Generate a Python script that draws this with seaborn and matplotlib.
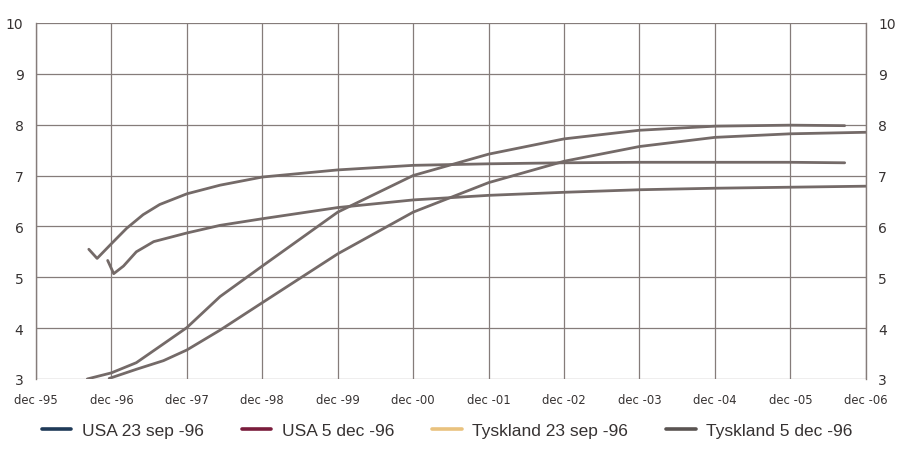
import matplotlib
matplotlib.use("Agg")
import matplotlib.pyplot as plt
from matplotlib.lines import Line2D
import seaborn as sns
import pandas as pd

# x in years after dec -95
tick_labels = ["dec -95", "dec -96", "dec -97", "dec -98", "dec -99", "dec -00",
               "dec -01", "dec -02", "dec -03", "dec -04", "dec -05", "dec -06"]
y_ticks = [3, 4, 5, 6, 7, 8, 9, 10]

series_names = ["USA 23 sep -96", "USA 5 dec -96", "Tyskland 23 sep -96", "Tyskland 5 dec -96"]

usa_sep_x = [0.70, 0.81, 1.0, 1.2, 1.42, 1.64, 2.0, 2.44, 3.0, 4.0, 5.0, 6.0, 7.0, 8.0, 9.0, 10.0, 10.72]
usa_sep_y = [5.55, 5.37, 5.66, 5.96, 6.23, 6.43, 6.64, 6.81, 6.97, 7.11, 7.20, 7.23, 7.25, 7.26, 7.26, 7.26, 7.25]

usa_dec_x = [0.95, 1.03, 1.16, 1.33, 1.56, 2.0, 2.44, 3.0, 4.0, 5.0, 6.0, 7.0, 8.0, 9.0, 10.0, 11.0]
usa_dec_y = [5.33, 5.07, 5.22, 5.50, 5.70, 5.87, 6.02, 6.15, 6.37, 6.52, 6.61, 6.67, 6.72, 6.75, 6.77, 6.79]

tys_sep_x = [0.68, 1.0, 1.33, 1.69, 2.0, 2.44, 3.0, 4.0, 5.0, 6.0, 7.0, 8.0, 9.0, 10.0, 10.72]
tys_sep_y = [3.00, 3.12, 3.32, 3.69, 4.01, 4.62, 5.22, 6.28, 7.00, 7.42, 7.72, 7.89, 7.97, 7.99, 7.98]

tys_dec_x = [0.97, 1.33, 1.69, 2.0, 2.44, 3.0, 4.0, 5.0, 6.0, 7.0, 8.0, 9.0, 10.0, 11.0]
tys_dec_y = [3.01, 3.19, 3.36, 3.57, 3.96, 4.50, 5.46, 6.28, 6.86, 7.28, 7.57, 7.75, 7.82, 7.85]

legend_colors = ["#1f3a58", "#7a1c3c", "#e9c27e", "#5a5452"]
curve_color = "#746a68"
grid_color = "#857c7a"
text_color = "#363232"

frames = []
for name, xs, ys in zip(series_names,
                        [usa_sep_x, usa_dec_x, tys_sep_x, tys_dec_x],
                        [usa_sep_y, usa_dec_y, tys_sep_y, tys_dec_y]):
    frames.append(pd.DataFrame({"x": xs, "y": ys, "serie": name}))
df = pd.concat(frames, ignore_index=True)

sns.set_style("white")
plt.rcParams["font.family"] = ["DejaVu Sans"]

fig = plt.figure(figsize=(9, 4.6), dpi=100)
ax = fig.add_axes([0.04, 0.174, 0.922, 0.774])

sns.lineplot(data=df, x="x", y="y", hue="serie", hue_order=series_names,
             palette=[curve_color] * 4, linewidth=2.0, sort=False,
             estimator=None, legend=False, ax=ax)
for ln in ax.get_lines():
    ln.set_solid_joinstyle("round")
    ln.set_solid_capstyle("round")

ax.set_xlim(0, 11)
ax.set_ylim(3, 10)
ax.set_xticks(range(len(tick_labels)))
ax.set_xticklabels(tick_labels, fontsize=8.4, color=text_color)
ax.set_yticks(y_ticks)
ax.set_yticklabels([str(v) for v in y_ticks], fontsize=10, color=text_color)
ax.set_xlabel("")
ax.set_ylabel("")

ax.grid(True, color=grid_color, linewidth=0.9)
ax.set_axisbelow(True)
ax.tick_params(axis="x", length=7, width=0.9, color=grid_color, pad=3, direction="out")
ax.tick_params(axis="y", length=0, pad=9, labelleft=True, labelright=True)
for s in ax.spines.values():
    s.set_color(grid_color)
    s.set_linewidth(1.0)
ax.spines["bottom"].set_visible(False)
ax.spines["top"].set_visible(False)

handles = [Line2D([0], [0], color=c, linewidth=2.6) for c in legend_colors]
fig.legend(handles, series_names, loc="center", bbox_to_anchor=(0.497, 0.062),
           ncol=4, frameon=False,
           prop={"family": "Liberation Sans", "size": 12.5},
           handlelength=1.7, handletextpad=0.6, columnspacing=2.2,
           labelcolor=text_color)

fig.savefig("out.png", dpi=100)
